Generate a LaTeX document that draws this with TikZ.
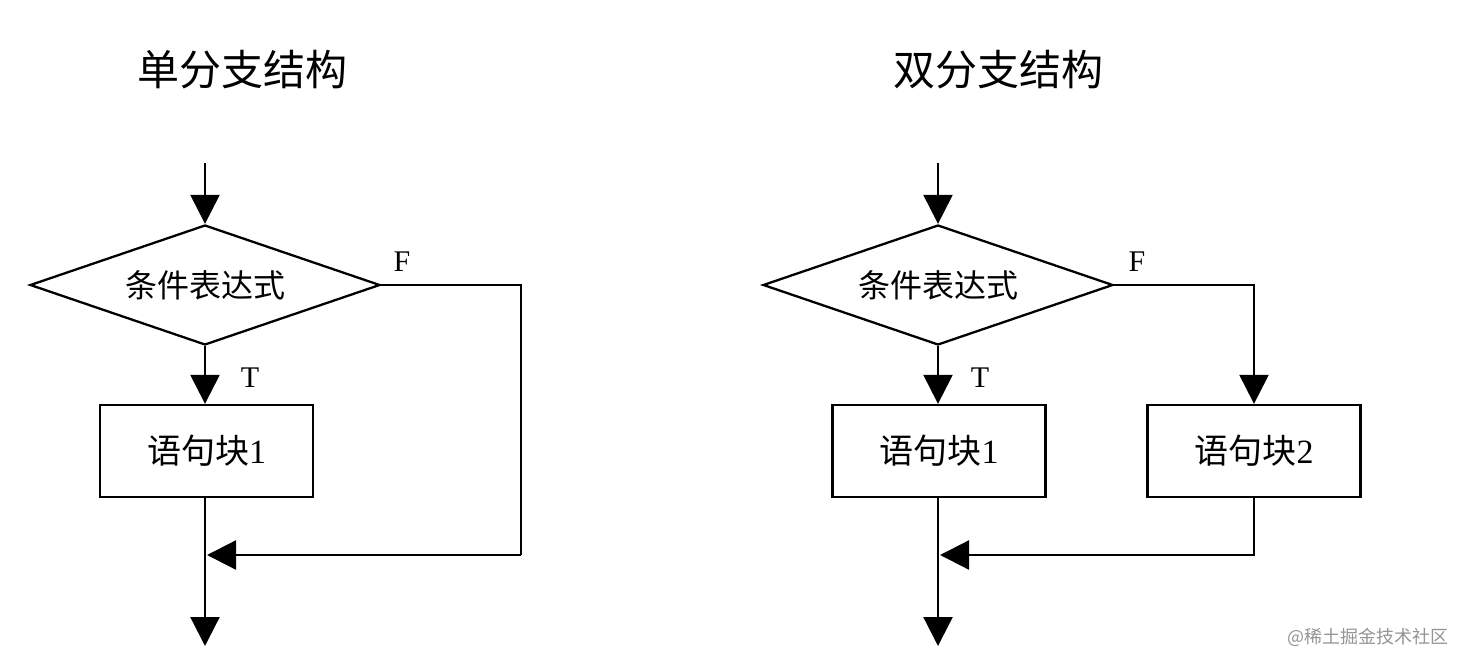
\documentclass[tikz,border=0pt]{standalone}
\usepackage{fontspec}
\setmainfont{Liberation Serif}
\newfontfamily\cjk{Noto Sans CJK SC}
\usetikzlibrary{shapes.geometric,arrows.meta}
\tikzset{
  ln/.style={line width=2.3pt,draw=black},
  arr/.style={ln,-{Triangle[length=29pt,width=29pt]}},
  cond/.style={diamond,ln,minimum width=350pt,minimum height=120pt,inner sep=0pt,aspect=2.9,
    font=\cjk\fontsize{32}{36}\selectfont},
  blockbox/.style={rectangle,ln,minimum width=213pt,minimum height=92pt,inner sep=0pt,
    font=\fontsize{34}{38}\selectfont},
  title/.style={font=\cjk\fontsize{42}{48}\selectfont},
  lab/.style={font=\fontsize{30}{34}\selectfont},
}
\begin{document}
\begin{tikzpicture}[x=1pt,y=-1pt]
\useasboundingbox (0,0) rectangle (1464,668);
% left: single branch
\node[title] (t1) at (242,70) {单分支结构};
\coordinate (s1) at (205,163);
\node[cond] (d1) at (205,285) {条件表达式};
\node[blockbox] (b1) at (206.5,451) {{\cjk 语句块}1};
\coordinate (m1) at (207,555);
\coordinate (e1) at (205,646);
\coordinate (r1) at (521,555);
\draw[arr] (s1) -- (d1.north);
\draw[arr] (d1.south) -- (b1.north -| d1.south);
\draw[arr] (b1.south -| d1.south) -- (e1);
\draw[ln] (d1.east) -| (r1);
\draw[arr] (r1) -- (m1);
\node[lab] (T1) at (250,378) {T};
\node[lab] (F1) at (402,262) {F};
% right: double branch
\node[title] (t2) at (998,70) {双分支结构};
\coordinate (s2) at (938,163);
\node[cond] (d2) at (938,285) {条件表达式};
\node[blockbox] (b2) at (939,451) {{\cjk 语句块}1};
\node[blockbox] (b3) at (1254,451) {{\cjk 语句块}2};
\coordinate (m2) at (940,555);
\coordinate (e2) at (938,646);
\draw[arr] (s2) -- (d2.north);
\draw[arr] (d2.south) -- (b2.north -| d2.south);
\draw[arr] (d2.east) -| (b3.north);
\draw[arr] (b2.south -| d2.south) -- (e2);
\draw[arr] (b3.south) |- (m2);
\node[lab] (T2) at (980,378) {T};
\node[lab] (F2) at (1137,262) {F};
% watermark
\node[font=\cjk\fontsize{18}{21}\selectfont,text=black!42,anchor=east] (wm) at (1452,637) {@稀土掘金技术社区};
\end{tikzpicture}
\end{document}
